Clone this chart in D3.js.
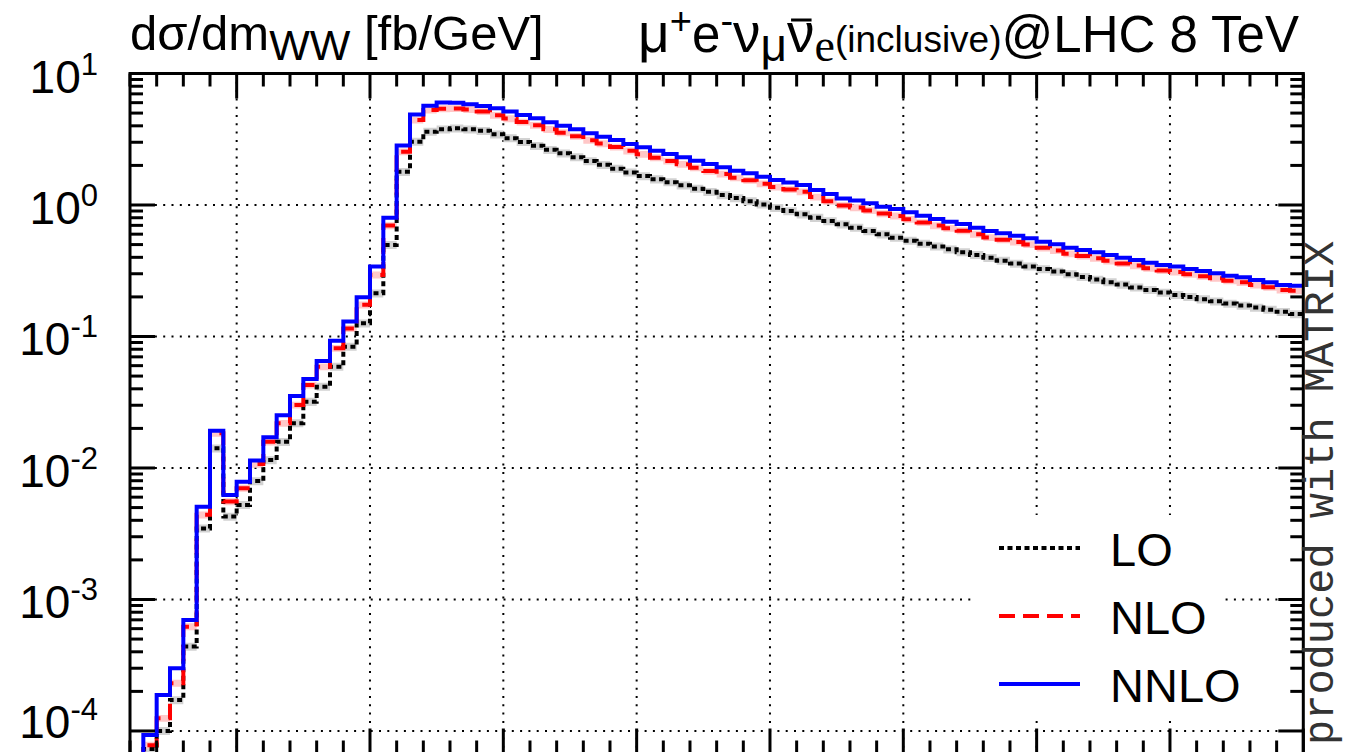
<!DOCTYPE html>
<html>
<head>
<meta charset="utf-8">
<script src="https://cdn.jsdelivr.net/npm/d3@7"></script>
<style>
  body { margin: 0; background: #fff; }
  svg { display: block; }
</style>
</head>
<body>
<svg id="chart" width="1347" height="752"></svg>
<script>
// m_WW histogram: uniform 2.5 GeV bins starting at 110 GeV
const binLow = 110;
const binWidth = 2.5;

// dσ/dm_WW [fb/GeV] per bin
const nnlo = [4.5e-5, 9.3e-5, 1.88e-4, 3.0e-4, 6.98e-4, 5.08e-3, 1.92e-2, 6.24e-3, 7.87e-3, 1.14e-2,
  1.71e-2, 2.52e-2, 3.52e-2, 4.75e-2, 6.52e-2, 9.29e-2, 0.130, 0.199, 0.340, 0.80,
  2.83, 4.87, 5.69, 6.01, 5.99, 5.83, 5.67, 5.44, 5.13, 4.84,
  4.56, 4.25, 4.01, 3.76, 3.51, 3.31, 3.12, 2.91, 2.75, 2.59,
  2.44, 2.31, 2.17, 2.05, 1.94, 1.82, 1.74, 1.64, 1.55, 1.48,
  1.42, 1.30, 1.21, 1.12, 1.08, 1.03, 0.971, 0.933, 0.880, 0.830,
  0.783, 0.747, 0.717, 0.672, 0.634, 0.609, 0.584, 0.558, 0.526, 0.502,
  0.473, 0.455, 0.437, 0.417, 0.397, 0.382, 0.364, 0.350, 0.340, 0.326,
  0.315, 0.303, 0.290, 0.282, 0.269, 0.258, 0.246, 0.243];

const nlo = [3.0e-5, 7.8e-5, 1.25e-4, 2.31e-4, 6.21e-4, 4.40e-3, 1.84e-2, 5.55e-3, 7.02e-3, 1.07e-2,
  1.58e-2, 2.19e-2, 3.01e-2, 4.27e-2, 5.89e-2, 8.13e-2, 0.115, 0.174, 0.294, 0.697,
  2.54, 4.43, 5.27, 5.40, 5.42, 5.32, 5.14, 4.81, 4.54, 4.28,
  4.04, 3.76, 3.55, 3.33, 3.11, 2.93, 2.76, 2.58, 2.43, 2.29,
  2.16, 2.04, 1.92, 1.81, 1.72, 1.61, 1.54, 1.45, 1.37, 1.31,
  1.26, 1.15, 1.07, 0.99, 0.955, 0.91, 0.86, 0.826, 0.779, 0.735,
  0.697, 0.665, 0.638, 0.600, 0.566, 0.545, 0.523, 0.500, 0.472, 0.451,
  0.426, 0.410, 0.394, 0.376, 0.359, 0.346, 0.330, 0.318, 0.309, 0.297,
  0.287, 0.277, 0.265, 0.258, 0.246, 0.237, 0.226, 0.223];

const lo = [2.0e-5, 7.3e-5, 1.0e-4, 1.72e-4, 4.38e-4, 3.47e-3, 1.41e-2, 4.27e-3, 5.24e-3, 7.96e-3,
  1.15e-2, 1.58e-2, 2.19e-2, 3.19e-2, 4.15e-2, 5.89e-2, 8.36e-2, 0.126, 0.213, 0.497,
  1.79, 3.03, 3.61, 3.76, 3.83, 3.76, 3.67, 3.45, 3.22, 3.02,
  2.82, 2.63, 2.47, 2.31, 2.16, 2.02, 1.89, 1.77, 1.66, 1.57,
  1.49, 1.41, 1.33, 1.26, 1.19, 1.13, 1.07, 1.01, 0.953, 0.900,
  0.849, 0.800, 0.755, 0.713, 0.672, 0.634, 0.598, 0.564, 0.535, 0.508,
  0.484, 0.460, 0.438, 0.417, 0.397, 0.377, 0.359, 0.341, 0.326, 0.312,
  0.298, 0.284, 0.271, 0.259, 0.248, 0.236, 0.226, 0.216, 0.207, 0.200,
  0.192, 0.185, 0.178, 0.172, 0.166, 0.160, 0.154, 0.148];

// relative scale-uncertainty half widths of the bands
const loBand = 0.07;
const nloBand = 0.06;
const nnloBand = 0.02;

const xDomain = [110, 330];
const xMajorStep = 25, xMinorStep = 5;
const yDomain = [6.74e-5, 10];
const decades = [-4, -3, -2, -1, 0, 1];
const legendLabels = ["LO", "NLO", "NNLO"];

const plot = { left: 130, right: 1303.3, top: 73.5, bottom: 753.5 };

const svg = d3.select("#chart");
const x = d3.scaleLinear().domain(xDomain).range([plot.left, plot.right]);
const y = d3.scaleLog().domain(yDomain).range([plot.bottom, plot.top]);

const edges = d3.range(nnlo.length + 1).map(i => binLow + i * binWidth);

svg.append("defs").append("clipPath").attr("id", "plotClip")
  .append("rect")
  .attr("x", plot.left).attr("y", plot.top)
  .attr("width", plot.right - plot.left).attr("height", plot.bottom - plot.top);

// dotted grid
const grid = svg.append("g").attr("stroke", "#000").attr("stroke-width", 2)
  .attr("stroke-dasharray", "2,6.3").attr("fill", "none");
const xMajor = d3.range(xDomain[0] + 20, xDomain[1], xMajorStep);
xMajor.forEach(v => {
  grid.append("line").attr("x1", x(v)).attr("x2", x(v))
    .attr("y1", plot.top).attr("y2", plot.bottom);
});
decades.filter(d => d < 1).forEach(d => {
  grid.append("line").attr("x1", plot.left).attr("x2", plot.right)
    .attr("y1", y(Math.pow(10, d))).attr("y2", y(Math.pow(10, d)));
});

// histogram helpers
function stepPoints(vals) {
  const pts = vals.map((v, i) => [edges[i], v]);
  pts.push([edges[vals.length], vals[vals.length - 1]]);
  return pts;
}
const stepLine = d3.line().x(d => x(d[0])).y(d => y(d[1])).curve(d3.curveStepAfter);
function bandArea(vals, rel) {
  return d3.area().x(d => x(d[0]))
    .y0(d => y(d[1] * (1 - rel))).y1(d => y(d[1] * (1 + rel)))
    .curve(d3.curveStepAfter)(stepPoints(vals));
}

const hist = svg.append("g").attr("clip-path", "url(#plotClip)");

const series = [
  { vals: lo, rel: loBand, color: "#000", band: "#d2d2d2", dash: "5,3.5" },
  { vals: nlo, rel: nloBand, color: "#ff0000", band: "#ffc8c8", dash: "16,8" },
  { vals: nnlo, rel: nnloBand, color: "#0000ff", band: "#c8c8ff", dash: null }
];

series.forEach(s => {
  hist.append("path").attr("d", bandArea(s.vals, s.rel))
    .attr("fill", s.band).attr("stroke", "none");
});
series.forEach(s => {
  hist.append("path").attr("d", stepLine(stepPoints(s.vals)))
    .attr("fill", "none").attr("stroke", s.color).attr("stroke-width", 4)
    .attr("stroke-dasharray", s.dash);
});

// frame and ticks
const axes = svg.append("g").attr("stroke", "#000").attr("stroke-width", 3).attr("fill", "none");
axes.append("rect").attr("x", plot.left).attr("y", plot.top)
  .attr("width", plot.right - plot.left).attr("height", plot.bottom - plot.top);

const majorLen = 25, minorLen = 13;
d3.range(xDomain[0], xDomain[1] + 0.01, xMinorStep).forEach(v => {
  const isMajor = Math.abs((v - (xDomain[0] + 20)) % xMajorStep) < 1e-6;
  const len = isMajor ? majorLen : minorLen;
  axes.append("line").attr("x1", x(v)).attr("x2", x(v)).attr("y1", plot.top).attr("y2", plot.top + len);
  axes.append("line").attr("x1", x(v)).attr("x2", x(v)).attr("y1", plot.bottom).attr("y2", plot.bottom - len);
});
decades.forEach(d => {
  for (let m = 1; m <= 9; m++) {
    const v = m * Math.pow(10, d);
    if (v < yDomain[0] || v > yDomain[1]) continue;
    const len = m === 1 ? majorLen : minorLen;
    axes.append("line").attr("x1", plot.left).attr("x2", plot.left + len).attr("y1", y(v)).attr("y2", y(v));
    axes.append("line").attr("x1", plot.right).attr("x2", plot.right - len).attr("y1", y(v)).attr("y2", y(v));
  }
});

// y tick labels 10^n (lowest one kept inside the canvas)
const font = "'Liberation Sans', Arial, Helvetica, sans-serif";
decades.forEach(d => {
  const base = Math.min(y(Math.pow(10, d)) + 19, 738);
  const t = svg.append("text").attr("x", 98).attr("y", base)
    .attr("text-anchor", "end").attr("font-family", font).attr("font-size", 46).attr("fill", "#000");
  t.append("tspan").text("10");
  t.append("tspan").attr("dy", -18).attr("font-size", 31).text(d < 0 ? "-" + Math.abs(d) : String(d));
});

// titles
const tl = svg.append("text").attr("x", 130).attr("y", 50)
  .attr("font-family", font).attr("font-size", 49).attr("fill", "#000");
tl.append("tspan").text("dσ/dm");
tl.append("tspan").attr("dy", 10).attr("font-size", 43).text("WW");
tl.append("tspan").attr("dy", -10).text(" [fb/GeV]");

const trY = 52;
const tr = svg.append("text").attr("x", 1299).attr("y", trY).attr("text-anchor", "end")
  .attr("font-family", font).attr("font-size", 51).attr("fill", "#000");
tr.append("tspan").attr("font-size", 55).text("μ");
tr.append("tspan").attr("dy", -18).attr("font-size", 38).text("+");
tr.append("tspan").attr("dy", 18).text("e");
tr.append("tspan").attr("dy", -18).attr("font-size", 38).text("-");
tr.append("tspan").attr("dy", 18).attr("font-size", 55).text("ν");
tr.append("tspan").attr("dy", 9).attr("font-size", 46).text("μ");
tr.append("tspan").attr("dy", -9).attr("font-size", 55).text("ν");
tr.append("tspan").attr("dy", 9).attr("font-size", 46).attr("font-family", "'Liberation Serif', serif").text("e");
tr.append("tspan").attr("dy", -9).attr("font-size", 37).text("(inclusive)");
tr.append("tspan").text("@LHC 8 TeV");

// bar over the anti-neutrino
{
  const full = tr.node().textContent;
  const idx = full.lastIndexOf("ν");
  const p0 = tr.node().getStartPositionOfChar(idx);
  const p1 = tr.node().getEndPositionOfChar(idx);
  svg.append("line").attr("x1", p0.x + 4).attr("x2", p1.x - 3)
    .attr("y1", trY - 32).attr("y2", trY - 32)
    .attr("stroke", "#000").attr("stroke-width", 3);
}

// legend
const legend = svg.append("g");
legend.append("rect").attr("x", 973).attr("y", 515).attr("width", 247).attr("height", 205).attr("fill", "#fff");
const legendY = [548, 616, 684];
series.forEach((s, i) => {
  legend.append("line").attr("x1", 999).attr("x2", 1080).attr("y1", legendY[i]).attr("y2", legendY[i])
    .attr("stroke", s.color).attr("stroke-width", 4).attr("stroke-dasharray", s.dash);
  legend.append("text").attr("x", 1110).attr("y", legendY[i] + 18)
    .attr("font-family", font).attr("font-size", 47).attr("fill", "#000").text(legendLabels[i]);
});

// producer tag along the right edge
svg.append("text").attr("transform", "translate(1333,745) rotate(-90)")
  .attr("font-family", "'Liberation Mono', 'DejaVu Sans Mono', monospace")
  .attr("font-size", 42).attr("fill", "#333").text("produced with MATRIX");
</script>
</body>
</html>
